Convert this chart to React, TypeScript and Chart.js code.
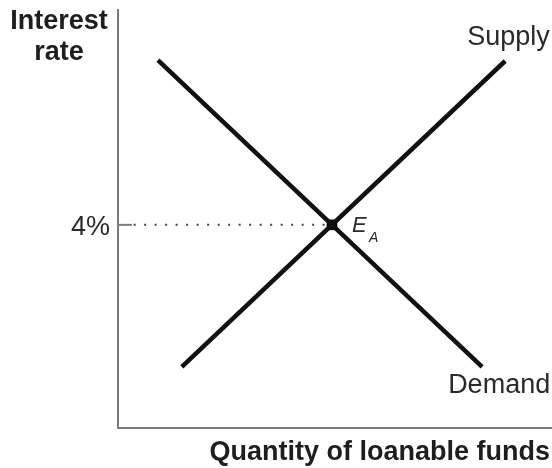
import React, { useEffect, useRef } from "react";
import { Chart, registerables } from "chart.js";

Chart.register(...registerables);

// Data (abstract units: quantity 0-10, interest rate 0-10)
const supplyX = [1.47, 8.92];
const supplyY = [1.46, 8.78];
const demandX = [0.92, 8.39];
const demandY = [8.8, 1.46];
const equilibriumX = [4.93];
const equilibriumY = [4.86];
const rateTickLabel = "4%";
const yTitleLines = ["Interest", "rate"];
const xTitle = "Quantity of loanable funds";
const supplyLabel = "Supply";
const demandLabel = "Demand";
const eqLabelMain = "E";
const eqLabelSub = "A";

const FONT = "'Liberation Sans', Arial, Helvetica, sans-serif";

const toPoints = (xs: number[], ys: number[]) => xs.map((x, i) => ({ x, y: ys[i] }));

const labelPlugin = {
  id: "labels",
  afterDraw(chart: any) {
    const { ctx, chartArea, scales } = chart;
    const xs = scales.x;
    const ys = scales.y;
    ctx.save();
    // Y title
    ctx.fillStyle = "#1e1e1e";
    ctx.font = `bold 27px ${FONT}`;
    ctx.textAlign = "center";
    ctx.textBaseline = "alphabetic";
    ctx.fillText(yTitleLines[0], 59, 29);
    ctx.fillText(yTitleLines[1], 59, 60);
    // X title
    ctx.textAlign = "right";
    ctx.fillText(xTitle, 550, 460);
    // Supply / demand labels
    ctx.font = `27px ${FONT}`;
    ctx.fillStyle = "#2a2a2a";
    ctx.textAlign = "left";
    const sx = xs.getPixelForValue(supplyX[1]);
    const sy = ys.getPixelForValue(supplyY[1]);
    ctx.fillText(supplyLabel, sx - 38, sy - 16);
    const dx = xs.getPixelForValue(demandX[1]);
    const dy = ys.getPixelForValue(demandY[1]);
    ctx.fillText(demandLabel, dx - 34, dy + 26);
    // 4% label
    const ex = xs.getPixelForValue(equilibriumX[0]);
    const ey = ys.getPixelForValue(equilibriumY[0]);
    ctx.textAlign = "right";
    ctx.fillText(rateTickLabel, chartArea.left - 8, ey + 10);
    // E_A
    ctx.textAlign = "left";
    ctx.font = `italic 22px ${FONT}`;
    ctx.fillText(eqLabelMain, ex + 20, ey + 7);
    ctx.font = `italic 14px ${FONT}`;
    ctx.fillText(eqLabelSub, ex + 37, ey + 17);
    ctx.restore();
  },
};

export default function App() {
  const ref = useRef<HTMLCanvasElement>(null);
  useEffect(() => {
    if (!ref.current) return;
    const chart = new Chart(ref.current, {
      type: "line",
      data: {
        datasets: [
          {
            label: "guide",
            data: [
              { x: 0.36, y: equilibriumY[0] },
              { x: equilibriumX[0], y: equilibriumY[0] },
            ],
            borderColor: "#444",
            borderWidth: 2,
            borderDash: [2, 8.5],
            pointRadius: 0,
          },
          {
            label: "tick",
            data: [
              { x: 0, y: equilibriumY[0] },
              { x: 0.32, y: equilibriumY[0] },
            ],
            borderColor: "#7a7a7a",
            borderWidth: 2,
            pointRadius: 0,
          },
          {
            label: "Supply",
            data: toPoints(supplyX, supplyY),
            borderColor: "#111",
            borderWidth: 4.5,
            pointRadius: 0,
          },
          {
            label: "Demand",
            data: toPoints(demandX, demandY),
            borderColor: "#111",
            borderWidth: 4.5,
            pointRadius: 0,
          },
          {
            label: "Equilibrium",
            data: toPoints(equilibriumX, equilibriumY),
            showLine: false,
            pointStyle: "rect",
            pointRadius: 7.5,
            backgroundColor: "#000",
            borderColor: "#000",
            borderWidth: 0,
          },
        ],
      },
      options: {
        animation: false,
        responsive: false,
        layout: { autoPadding: false, padding: { top: 10, left: 0, right: 0, bottom: 0 } },
        plugins: { legend: { display: false }, tooltip: { enabled: false } },
        scales: {
          x: {
            type: "linear",
            min: 0,
            max: 10,
            ticks: { display: false },
            grid: { display: false },
            border: { display: true, color: "#7a7a7a", width: 2 },
            afterFit: (s: any) => {
              s.height = 40;
            },
          },
          y: {
            type: "linear",
            min: 0,
            max: 10,
            ticks: { display: false },
            grid: { display: false },
            border: { display: true, color: "#7a7a7a", width: 2 },
            afterFit: (s: any) => {
              s.width = 118;
            },
          },
        },
      },
      plugins: [labelPlugin],
    } as any);
    return () => chart.destroy();
  }, []);
  return (
    <canvas
      ref={ref}
      width={552}
      height={468}
      style={{ position: "fixed", left: 0, top: 0, width: 552, height: 468, background: "#fff" }}
    />
  );
}
